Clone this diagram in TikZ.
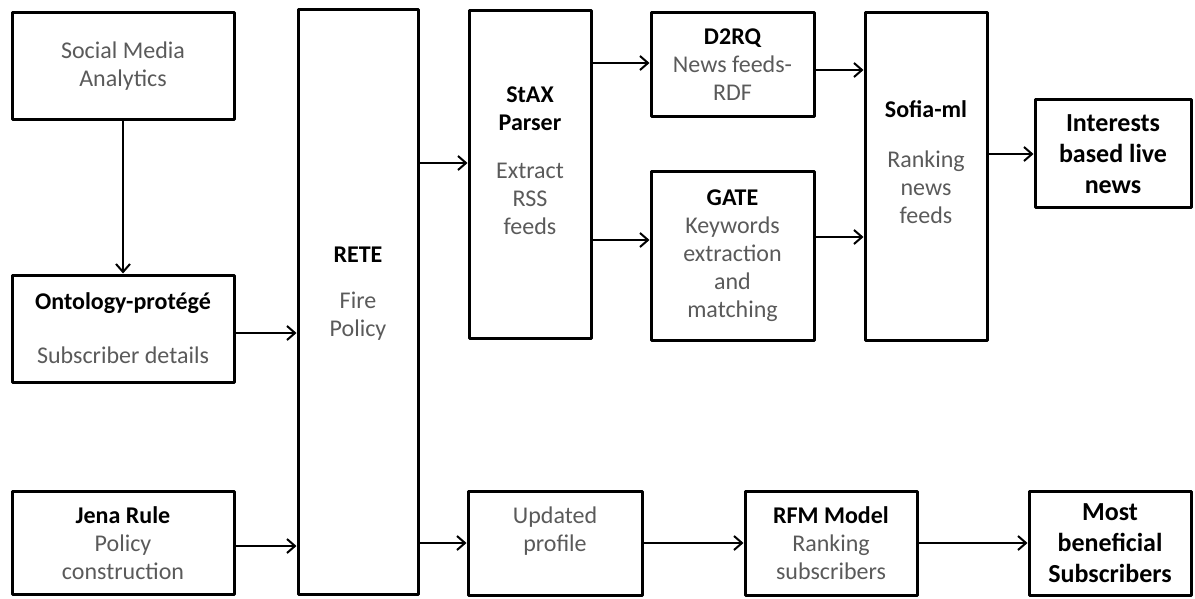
\documentclass[tikz,border=0pt]{standalone}
\usepackage{fontspec}
\setmainfont{Carlito}
\usetikzlibrary{arrows.meta}

\definecolor{descgray}{RGB}{90,90,90}

\begin{document}
\begin{tikzpicture}[
    x=0.5pt,
    y=-0.5pt,
    line join=round,
    >={Straight Barb[length=4pt,width=7pt]},
    blk/.style={draw, line width=1.5pt, align=center, inner sep=0pt,
        text=descgray, font=\fontsize{12}{14}\selectfont},
    ttl/.style={text=black, font=\fontsize{13}{15.5}\selectfont\bfseries},
    flow/.style={->, line width=1pt}
]
\useasboundingbox (0,0) rectangle (1195,599);

% left column
\node[blk, minimum width=111pt, minimum height=53.5pt] (social) at (123,66.5)
    {Social Media\\Analytics};
\node[blk, minimum width=111pt, minimum height=53.5pt] (onto) at (123,328.5)
    {\textcolor{black}{\bfseries Ontology-protégé}\\[13pt]Subscriber details};
\node[blk, minimum width=111pt, minimum height=51.5pt] (jena) at (123,543)
    {\textcolor{black}{\bfseries Jena Rule}\\Policy\\construction};

% rule engine
\node[blk, minimum width=60pt, minimum height=292pt] (rete) at (358,302)
    {\textcolor{black}{\bfseries RETE}\\[9pt]Fire\\Policy\\[-4pt]~};

% news branch
\node[blk, minimum width=61pt, minimum height=163.5pt] (stax) at (530,174.5)
    {\textcolor{black}{\bfseries StAX}\\\textcolor{black}{\bfseries Parser}\\[10pt]Extract\\RSS\\feeds\\~};
\node[blk, minimum width=81.5pt, minimum height=52pt] (d2rq) at (732.5,65)
    {\textcolor{black}{\bfseries D2RQ}\\News feeds-\\RDF};
\node[blk, minimum width=81.5pt, minimum height=84pt] (gate) at (732.5,256)
    {\textcolor{black}{\bfseries GATE}\\Keywords\\extraction\\and\\matching};
\node[blk, minimum width=61pt, minimum height=163.5pt] (sofia) at (926,176.5)
    {\textcolor{black}{\bfseries Sofia-ml}\\[11pt]Ranking\\news\\feeds\\~};
\node[blk, ttl, minimum width=78pt, minimum height=54pt] (news) at (1113,154)
    {Interests\\based live\\news};

% subscriber branch
\node[blk, minimum width=87pt, minimum height=52pt] (upd) at (555,543)
    {Updated\\profile\\~};
\node[blk, minimum width=86pt, minimum height=52pt] (rfm) at (831,543)
    {\textcolor{black}{\bfseries RFM Model}\\Ranking\\subscribers};
\node[blk, ttl, minimum width=81pt, minimum height=52pt] (most) at (1110,543)
    {Most\\beneficial\\Subscribers};

% connectors
\draw[flow] (social.south) -- (onto.north);
\draw[flow] (onto.east |- 0,333) -- (rete.west |- 0,333);
\draw[flow] (jena.east |- 0,546) -- (rete.west |- 0,546);
\draw[flow] (rete.east |- 0,163) -- (stax.west |- 0,163);
\draw[flow] (stax.east |- 0,63) -- (d2rq.west |- 0,63);
\draw[flow] (stax.east |- 0,240) -- (gate.west |- 0,240);
\draw[flow] (d2rq.east |- 0,70) -- (sofia.west |- 0,70);
\draw[flow] (gate.east |- 0,237) -- (sofia.west |- 0,237);
\draw[flow] (sofia.east |- news.west) -- (news.west);
\draw[flow] (rete.east |- upd.west) -- (upd.west);
\draw[flow] (upd.east) -- (rfm.west);
\draw[flow] (rfm.east) -- (most.west);

\end{tikzpicture}
\end{document}
